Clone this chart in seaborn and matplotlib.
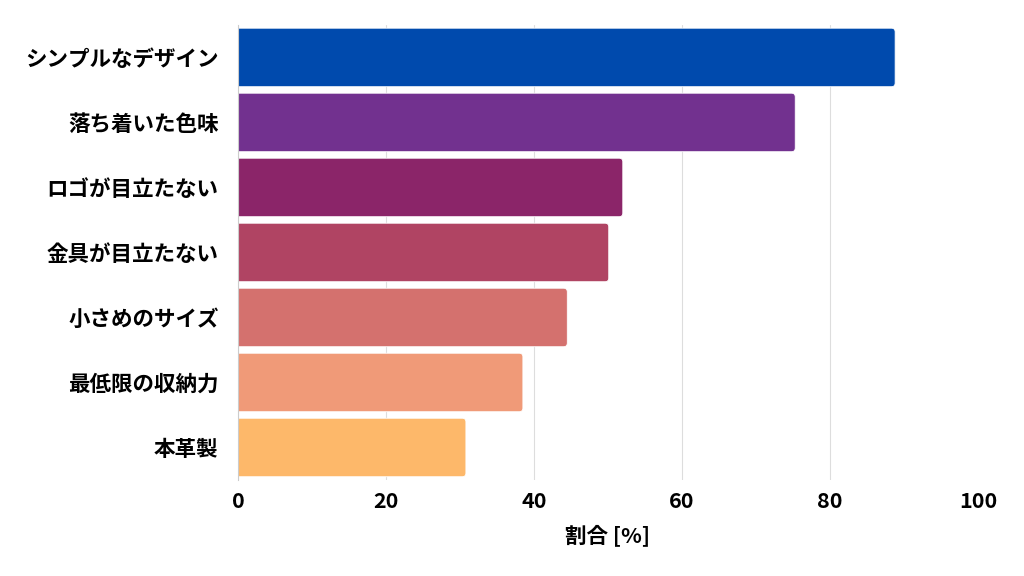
import matplotlib
matplotlib.use("Agg")
import matplotlib.pyplot as plt
import seaborn as sns
from matplotlib.patches import FancyBboxPatch

# データ
labels = ["シンプルなデザイン", "落ち着いた色味", "ロゴが目立たない", "金具が目立たない",
          "小さめのサイズ", "最低限の収納力", "本革製"]
values = [88.8, 75.3, 52.0, 50.1, 44.5, 38.5, 30.8]
colors = ["#004AAD", "#72318F", "#8B2569", "#B04463", "#D4716E", "#F09A78", "#FDB86A"]
xticks = [0, 20, 40, 60, 80, 100]

sns.set_theme(style="whitegrid")
plt.rcParams["font.family"] = ["Noto Sans CJK JP", "DejaVu Sans"]

fig = plt.figure(figsize=(10.24, 5.76), dpi=100)
ax = fig.add_axes([0.2324, 0.1667, 0.7227, 0.79])

sns.barplot(x=values, y=labels, hue=labels, palette=colors, legend=False,
            width=0.9, saturation=1, ax=ax, orient="h")

# 角丸のバーに置き換え
for p in list(ax.patches):
    x0, y0 = p.get_x(), p.get_y()
    w, h = p.get_width(), p.get_height()
    fc = p.get_facecolor()
    p.remove()
    box = FancyBboxPatch((x0 - 2, y0), w + 2, h,
                         boxstyle="round,pad=0,rounding_size=0.5",
                         mutation_aspect=0.114, facecolor=fc,
                         edgecolor="white", linewidth=0.6, zorder=2)
    ax.add_patch(box)

ax.set_xlim(0, 100)
ax.set_ylim(6.5, -0.5)
ax.set_xticks(xticks)
ax.set_xlabel("割合 [%]", fontsize=15.5, fontweight="bold", color="black", labelpad=9)
ax.set_ylabel("")
ax.tick_params(axis="both", length=0, labelsize=15.5)
ax.tick_params(axis="y", pad=14)
ax.tick_params(axis="x", pad=8)
for t in ax.get_xticklabels() + ax.get_yticklabels():
    t.set_fontweight("bold")
    t.set_color("black")

ax.grid(axis="y", visible=False)
ax.grid(axis="x", color="#dddddd", linewidth=0.8)
ax.set_axisbelow(True)
ax.xaxis.get_gridlines()[-1].set_visible(False)
for s in ["top", "right", "bottom"]:
    ax.spines[s].set_visible(False)
ax.spines["left"].set_color("#cccccc")
ax.spines["left"].set_linewidth(0.8)

fig.savefig("out.png", dpi=100, facecolor="white")
